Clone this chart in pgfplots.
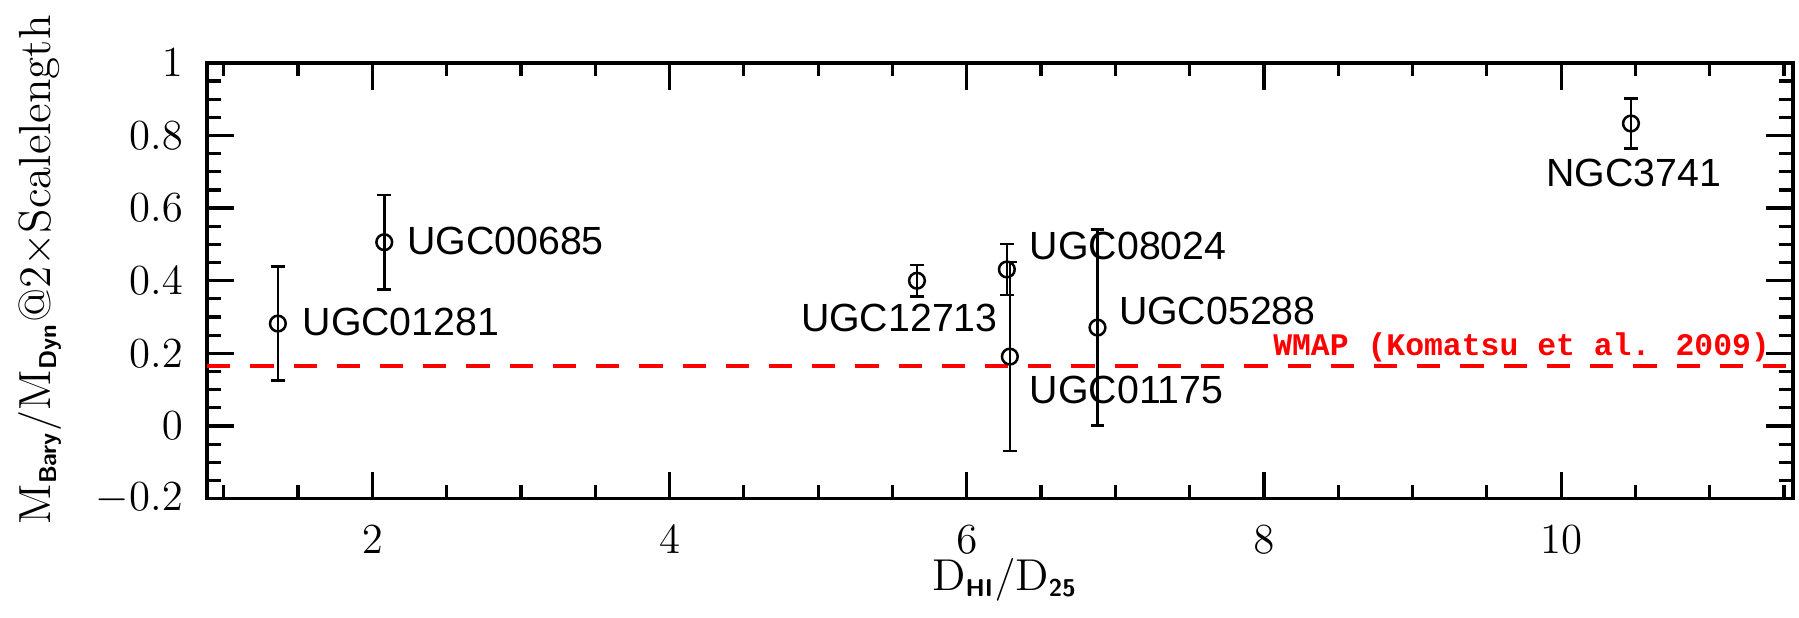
\documentclass[border=0pt]{standalone}
\usepackage{fontspec}
\usepackage{pgfplots}
\pgfplotsset{compat=1.18}
\newfontfamily\lblfont{Liberation Sans}
\newfontfamily\wmapfont{Liberation Mono}
\newcommand{\sub}[1]{\mbox{\fontsize{6.8}{7}\selectfont\sffamily\bfseries #1}}
\pgfplotstableread{
x y e
1.364 0.282 0.157
2.08 0.506 0.130
5.665 0.400 0.043
6.27 0.431 0.070
6.29 0.191 0.260
6.88 0.271 0.270
10.47 0.833 0.069
}\galaxies
\begin{document}
\begin{tikzpicture}
\useasboundingbox (-58pt,-33.4pt) rectangle (445.7pt,139.6pt);
\begin{axis}[
  scale only axis, width=444pt, height=122pt,
  at={(0,0)}, anchor=south west,
  xmin=0.888, xmax=11.56, ymin=-0.2, ymax=1.0,
  xtick={2,4,6,8,10},
  ytick={-0.2,0,0.2,0.4,0.6,0.8,1},
  minor xtick={1,1.5,2.5,3,3.5,4.5,5,5.5,6.5,7,7.5,8.5,9,9.5,10.5,11,11.5},
  minor ytick={-0.15,-0.1,-0.05,0.05,0.1,0.15,0.25,0.3,0.35,0.45,0.5,0.55,0.65,0.7,0.75,0.85,0.9,0.95},
  xtick pos=both, ytick pos=both,
  xticklabel pos=lower, yticklabel pos=left,
  tick align=inside,
  major tick length=7.5pt, minor tick length=3.8pt,
  axis line style={line width=1.05pt},
  every tick/.style={black, line width=0.9pt},
  tick label style={font=\fontsize{11.5}{13}\selectfont},
  xticklabel style={yshift=-4pt},
  yticklabel style={xshift=-3.3pt},
  xlabel={$\mathrm{D}_{\sub{HI}}/\mathrm{D}_{\sub{25}}$},
  ylabel={$\mathrm{M}_{\sub{Bary}}/\mathrm{M}_{\sub{Dyn}}$@2$\times$Scalelength},
  xlabel style={at={(axis description cs:0.503,-0.21)}, anchor=base, font=\fontsize{12.5}{14}\selectfont},
  ylabel style={at={(axis description cs:-0.1054,0.525)}, anchor=center, font=\fontsize{12.6}{14}\selectfont},
  clip=false,
]
\addplot[red, line width=1pt, dash pattern=on 6.5pt off 5.6pt] coordinates {(0.888,0.165) (11.56,0.165)};
\addplot[only marks, black, mark=o, mark size=2.2pt, mark options={line width=0.7pt},
  error bars/.cd, y dir=both, y explicit,
  error bar style={line width=0.7pt, black},
  error mark options={rotate=90, mark size=1.9pt, line width=0.7pt, black}]
  table[x=x, y=y, y error=e] {\galaxies};
\begin{scope}[every node/.style={font=\lblfont\fontsize{11}{13}\selectfont, inner sep=0pt}]
\node[anchor=west] at (axis cs:1.526,0.286) {UGC01281};
\node[anchor=west] at (axis cs:2.23,0.509) {UGC00685};
\node[anchor=west] at (axis cs:4.88,0.297) {UGC12713};
\node[anchor=west] at (axis cs:6.42,0.496) {UGC08024};
\node[anchor=west] at (axis cs:7.02,0.316) {UGC05288};
\node[anchor=west] at (axis cs:6.42,0.098) {UGC01175};
\node[anchor=center] at (axis cs:10.49,0.698) {NGC3741};
\end{scope}
\node[anchor=base east, inner sep=0pt, text=red, font=\wmapfont\bfseries\fontsize{8.8}{10}\selectfont] at (axis cs:11.41,0.195) {WMAP (Komatsu et al. 2009)};
\end{axis}
\end{tikzpicture}
\end{document}
